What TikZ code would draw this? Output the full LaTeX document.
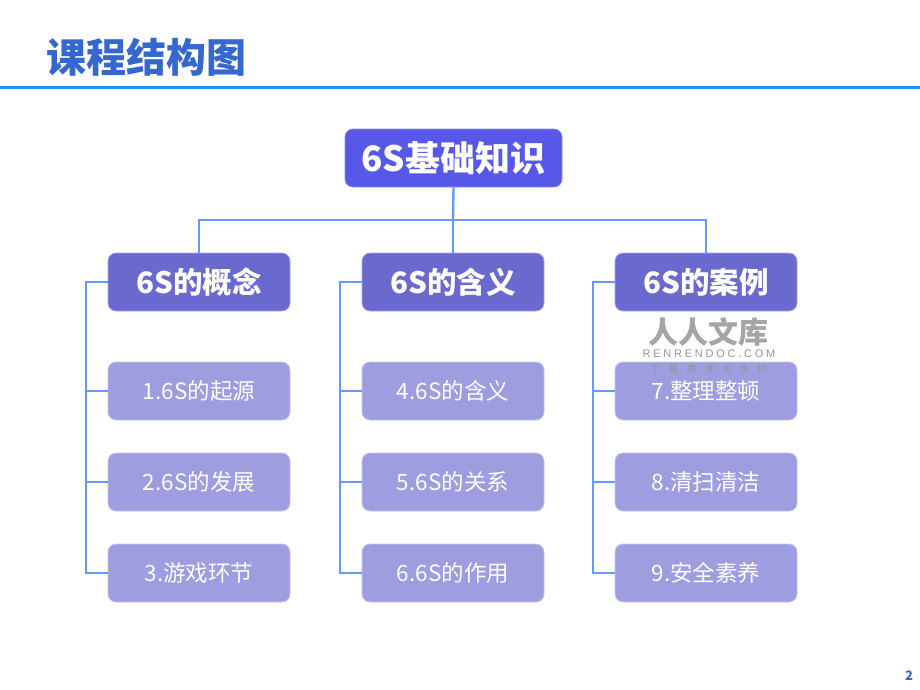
\documentclass[tikz,border=0pt]{standalone}
\usepackage{fontspec}
\newfontfamily\cjk{Noto Sans CJK SC}
\newfontfamily\wmlat[LetterSpace=25]{Liberation Sans}
\definecolor{titleblue}{RGB}{52,104,206}
\definecolor{rulecol}{RGB}{24,152,240}
\definecolor{topcol}{RGB}{88,88,232}
\definecolor{midcol}{RGB}{106,106,206}
\definecolor{leafcol}{RGB}{157,157,224}
\definecolor{linkcol}{RGB}{102,153,255}
\definecolor{wmgrey}{RGB}{165,165,165}
\definecolor{wmgreyb}{RGB}{150,150,150}
\newcommand{\wsp}{\hspace{8.2pt}}
\tikzset{
  topbox/.style={fill=topcol,draw=topcol!70!white,line width=0.8pt,rounded corners=8pt,minimum width=217pt,minimum height=58pt,inner sep=0pt,text=white,font=\cjk\bfseries\fontsize{35}{40}\selectfont},
  midbox/.style={fill=midcol,draw=midcol!60!white,line width=0.8pt,rounded corners=8pt,minimum width=182pt,minimum height=58pt,inner sep=0pt,text=white,font=\cjk\bfseries\fontsize{29.5}{34}\selectfont},
  leafbox/.style={fill=leafcol,draw=leafcol!60!white,line width=0.8pt,rounded corners=8pt,minimum width=182pt,minimum height=58pt,inner sep=0pt,text=white,font=\cjk\fontsize{22.5}{27}\selectfont},
  link/.style={draw=linkcol,line width=2.4pt}
}
\begin{document}
\begin{tikzpicture}[x=1pt,y=-1pt]
\useasboundingbox (0,0) rectangle (920,690);
\fill[white] (0,0) rectangle (920,690);
% title
\node[anchor=west,inner sep=0pt,text=titleblue,font=\cjk\bfseries\fontsize{40}{46}\selectfont] (title) at (46,57) {课程结构图};
\draw[rulecol,line width=3pt] (0,88) -- (920,88);
% nodes
\node[topbox] (top) at (453.5,158) {6S基础知识};
\node[midbox] (a) at (199,282) {6S的概念};
\node[midbox] (b) at (453,282) {6S的含义};
\node[midbox] (c) at (706,282) {6S的案例};
\node[leafbox] (a1) at (199,391) {1.6S的起源};
\node[leafbox] (a2) at (199,482) {2.6S的发展};
\node[leafbox] (a3) at (199,573) {3.游戏环节};
\node[leafbox] (b1) at (453,391) {4.6S的含义};
\node[leafbox] (b2) at (453,482) {5.6S的关系};
\node[leafbox] (b3) at (453,573) {6.6S的作用};
\node[leafbox] (c1) at (706,391) {7.整理整顿};
\node[leafbox] (c2) at (706,482) {8.清扫清洁};
\node[leafbox] (c3) at (706,573) {9.安全素养};
% top connectors
\coordinate (hub) at (453,220);
\path[link] (top.south) -- (hub);
\path[link] (a.north) |- (hub) -| (c.north);
\path[link] (hub) -- (b.north);
% side connectors
\foreach \p/\xx in {a/86,b/340,c/593}{
  \coordinate (\p L) at (\xx,282);
  \path[link] (\p.west) -- (\p L) |- (\p3.west);
  \path[link] (\p L |- \p1.west) -- (\p1.west);
  \path[link] (\p L |- \p2.west) -- (\p2.west);
}
% watermark
\node[inner sep=0pt,text=wmgrey,font=\cjk\bfseries\fontsize{30}{32}\selectfont] (wm1) at (708,332) {人人文库};
\node[inner sep=0pt,text=wmgreyb,font=\wmlat\fontsize{11}{12}\selectfont] (wm2) at (709,353.5) {RENRENDOC.COM};
\node[inner sep=0pt,text=wmgreyb,font=\cjk\fontsize{9.5}{11}\selectfont] (wm3) at (709,368.5) {下\wsp 载\wsp 高\wsp 清\wsp 无\wsp 水\wsp 印};
% page number
\node[inner sep=0pt,text=titleblue,font=\cjk\bfseries\fontsize{13}{15}\selectfont] (pg) at (909,676) {2};
\end{tikzpicture}
\end{document}
